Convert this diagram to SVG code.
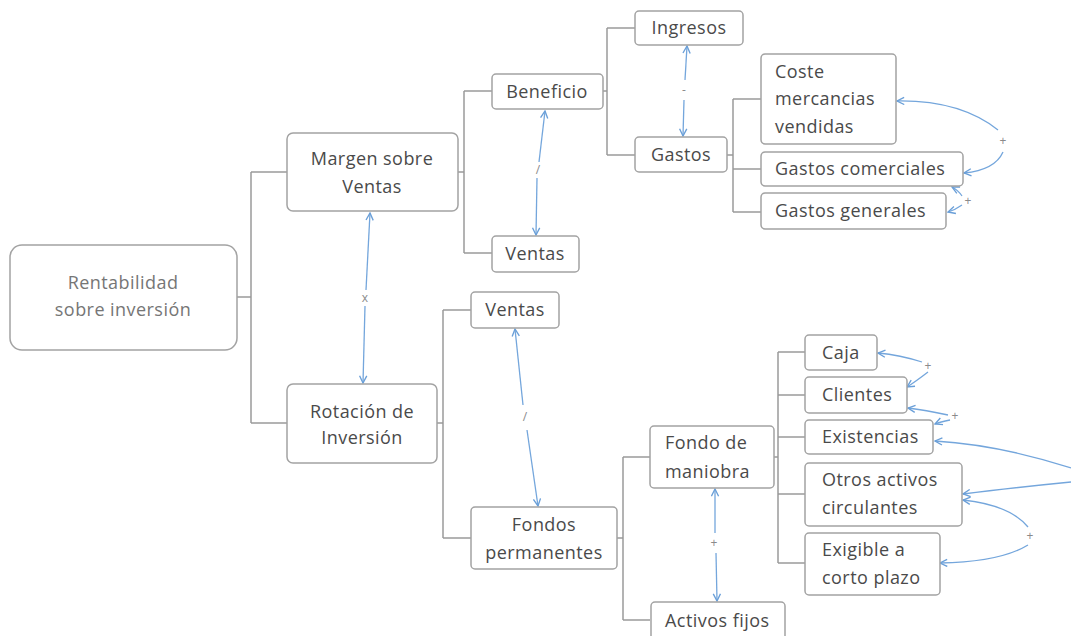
<svg xmlns="http://www.w3.org/2000/svg" width="1071" height="636" viewBox="0 0 1071 636">
<defs>
<marker id="ah" viewBox="0 0 10 10" refX="9" refY="5" markerWidth="9" markerHeight="9" markerUnits="userSpaceOnUse" orient="auto">
<path d="M1,1 L9,5 L1,9" fill="none" stroke="#6a9fd8" stroke-width="1.5"/>
</marker>
<style>
.box{fill:#fff;stroke:#a3a3a3;stroke-width:1.5}
.t{font-family:"Open Sans","Noto Sans",sans-serif;font-size:18px;letter-spacing:0.45px;fill:#4a4a4a}
.c{text-anchor:middle}
.light{fill:#767676}
.tree{fill:none;stroke:#9a9a9a;stroke-width:1.5}
.rel{fill:none;stroke:#74a6dc;stroke-width:1.3;marker-end:url(#ah)}
.lab{font-family:"Open Sans","Noto Sans",sans-serif;font-size:12px;fill:#8a8a8a;text-anchor:middle}
</style>
</defs>
<rect width="1071" height="636" fill="#fff"/>
<g id="connectors">
<path class="tree" d="M237,297 H251 M251,172 V423 M251,172 H287 M251,423 H287"/>
<path class="tree" d="M458,172 H464 M464,91 V253 M464,91 H492 M464,253 H492"/>
<path class="tree" d="M603,91 H607 M607,28 V155 M607,28 H635 M607,155 H635"/>
<path class="tree" d="M727,155 H733 M733,99 V212 M733,99 H761 M733,169 H761 M733,212 H761"/>
<path class="tree" d="M437,423 H443 M443,310 V538 M443,310 H471 M443,538 H471"/>
<path class="tree" d="M617,538 H623 M623,457 V620 M623,457 H650 M623,620 H650"/>
<path class="tree" d="M774,457 H778 M778,352 V563 M778,352 H805 M778,395 H805 M778,437 H805 M778,494 H805 M778,563 H805"/>
<path class="rel" d="M366,290 L370,213"/>
<path class="rel" d="M365,306 L363,383"/>
<text class="lab" x="365" y="302">x</text>
<path class="rel" d="M539,162 L545,111"/>
<path class="rel" d="M537,178 L536,235"/>
<text class="lab" x="538" y="174">/</text>
<path class="rel" d="M685,80 L687,46"/>
<path class="rel" d="M684,100 L683,136"/>
<text class="lab" x="684" y="94">-</text>
<path class="rel" d="M523,405 L515,329"/>
<path class="rel" d="M527,430 L538,506"/>
<text class="lab" x="525" y="421">/</text>
<path class="rel" d="M715,533 L715,489"/>
<path class="rel" d="M716,553 L717,601"/>
<text class="lab" x="714" y="547">+</text>
<path class="rel" d="M998,130 Q960,100 897,101"/>
<path class="rel" d="M1003,152 Q995,170 964,173"/>
<text class="lab" x="1003" y="145">+</text>
<path class="rel" d="M962,205 Q955,210 948,212"/>
<path class="rel" d="M962,196 Q958,190 952,187"/>
<text class="lab" x="968" y="205">+</text>
<path class="rel" d="M922,362 Q900,355 878,353"/>
<path class="rel" d="M928,372 Q915,382 907,387"/>
<text class="lab" x="928" y="370">+</text>
<path class="rel" d="M948,415 Q925,410 908,408"/>
<path class="rel" d="M950,420 Q940,422 935,424"/>
<text class="lab" x="955" y="420">+</text>
<path class="rel" d="M1071,468 Q1000,445 935,441"/>
<path class="rel" d="M1071,482 Q1010,488 963,494"/>
<path class="rel" d="M1028,527 Q1010,505 963,500"/>
<path class="rel" d="M1028,545 Q1000,562 940,563"/>
<text class="lab" x="1030" y="540">+</text>
</g>
<g id="rentabilidad"><rect class="box" x="10" y="245" width="227" height="105" rx="12"/>
<text class="t c light" x="123" y="289">Rentabilidad</text><text class="t c light" x="123" y="316">sobre inversión</text></g>
<g id="margen"><rect class="box" x="287" y="133" width="171" height="78" rx="6"/>
<text class="t c" x="372" y="165">Margen sobre</text><text class="t c" x="372" y="193">Ventas</text></g>
<g id="rotacion"><rect class="box" x="287" y="384" width="150" height="79" rx="6"/>
<text class="t c" x="362" y="418">Rotación de</text><text class="t c" x="362" y="444">Inversión</text></g>
<g id="beneficio"><rect class="box" x="492" y="74" width="111" height="35" rx="4"/>
<text class="t c" x="547" y="98">Beneficio</text></g>
<g id="ventas1"><rect class="box" x="492" y="236" width="87" height="36" rx="4"/>
<text class="t c" x="535" y="260">Ventas</text></g>
<g id="ingresos"><rect class="box" x="635" y="11" width="108" height="34" rx="4"/>
<text class="t c" x="689" y="34">Ingresos</text></g>
<g id="gastos"><rect class="box" x="635" y="137" width="92" height="35" rx="4"/>
<text class="t c" x="681" y="161">Gastos</text></g>
<g id="coste"><rect class="box" x="761" y="54" width="135" height="90" rx="4"/>
<text class="t" x="775" y="78">Coste</text><text class="t" x="775" y="105">mercancias</text><text class="t" x="775" y="133">vendidas</text></g>
<g id="gcomerciales"><rect class="box" x="761" y="152" width="202" height="34" rx="4"/>
<text class="t" x="775" y="175">Gastos comerciales</text></g>
<g id="ggenerales"><rect class="box" x="761" y="193" width="185" height="36" rx="4"/>
<text class="t" x="775" y="217">Gastos generales</text></g>
<g id="ventas2"><rect class="box" x="471" y="292" width="88" height="36" rx="4"/>
<text class="t c" x="515" y="316">Ventas</text></g>
<g id="fondos"><rect class="box" x="471" y="507" width="146" height="62" rx="4"/>
<text class="t c" x="544" y="531">Fondos</text><text class="t c" x="544" y="559">permanentes</text></g>
<g id="fondomaniobra"><rect class="box" x="650" y="426" width="124" height="62" rx="4"/>
<text class="t" x="665" y="449">Fondo de</text><text class="t" x="665" y="478">maniobra</text></g>
<g id="activosfijos"><rect class="box" x="651" y="602" width="134" height="42" rx="4"/>
<text class="t" x="665" y="627">Activos fijos</text></g>
<g id="caja"><rect class="box" x="805" y="335" width="72" height="35" rx="4"/>
<text class="t" x="822" y="359">Caja</text></g>
<g id="clientes"><rect class="box" x="805" y="377" width="102" height="36" rx="4"/>
<text class="t" x="822" y="401">Clientes</text></g>
<g id="existencias"><rect class="box" x="805" y="420" width="128" height="34" rx="4"/>
<text class="t" x="822" y="443">Existencias</text></g>
<g id="otros"><rect class="box" x="805" y="463" width="157" height="63" rx="4"/>
<text class="t" x="822" y="486">Otros activos</text><text class="t" x="822" y="514">circulantes</text></g>
<g id="exigible"><rect class="box" x="805" y="533" width="135" height="62" rx="4"/>
<text class="t" x="822" y="556">Exigible a</text><text class="t" x="822" y="584">corto plazo</text></g>
</svg>
